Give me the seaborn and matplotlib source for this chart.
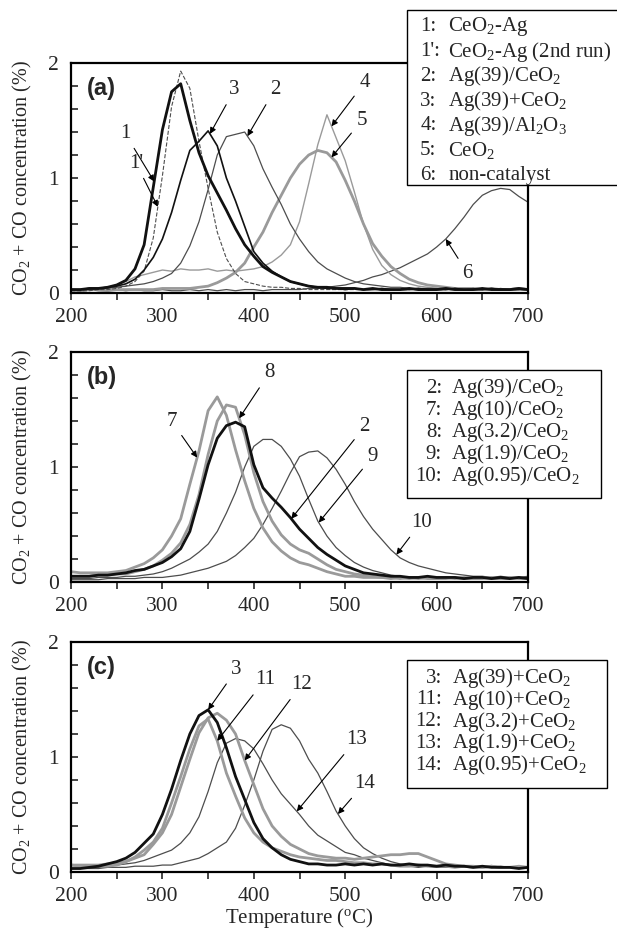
import numpy as np
import matplotlib
matplotlib.use('Agg')
import matplotlib.pyplot as plt
from matplotlib.patches import Rectangle
from matplotlib.ticker import MultipleLocator
import seaborn as sns

sns.set_style("white")
plt.rcParams['font.family'] = ['Liberation Serif', 'DejaVu Serif']
plt.rcParams['mathtext.fontset'] = 'custom'
plt.rcParams['mathtext.rm'] = 'Liberation Serif'
plt.rcParams['mathtext.it'] = 'Liberation Serif:italic'
plt.rcParams['mathtext.bf'] = 'Liberation Serif:bold'

# ------------------------------- data (10 degC steps)
temps = np.arange(200, 701, 10)

# panel (a)
a_1 = [0.03, 0.03, 0.04, 0.04, 0.05, 0.07, 0.11, 0.21, 0.42, 0.92, 1.42, 1.75,
       1.82, 1.50, 1.22, 1.02, 0.87, 0.72, 0.56, 0.42, 0.32, 0.23, 0.18, 0.14,
       0.10, 0.08, 0.06, 0.05, 0.05, 0.04, 0.04, 0.04, 0.03, 0.04, 0.03, 0.03,
       0.03, 0.04, 0.03, 0.03, 0.03, 0.04, 0.03, 0.03, 0.03, 0.04, 0.03, 0.03,
       0.03, 0.04, 0.03]
a_1b = [0.02, 0.02, 0.02, 0.03, 0.03, 0.04, 0.06, 0.10, 0.19, 0.48, 1.02, 1.62,
        1.93, 1.78, 1.32, 0.91, 0.53, 0.30, 0.17, 0.10, 0.08, 0.06, 0.05, 0.05,
        0.04, 0.04, 0.03, 0.03, 0.03, 0.03, 0.03, 0.03, 0.03, 0.03, 0.03, 0.03,
        0.03, 0.03, 0.03, 0.03, 0.03, 0.03, 0.03, 0.03, 0.03, 0.03, 0.03, 0.03,
        0.03, 0.03, 0.03]
a_2 = [0.03, 0.03, 0.03, 0.04, 0.04, 0.05, 0.06, 0.07, 0.08, 0.10, 0.13, 0.17,
       0.26, 0.41, 0.62, 0.90, 1.20, 1.36, 1.38, 1.40, 1.28, 1.08, 0.92, 0.77,
       0.60, 0.47, 0.36, 0.27, 0.21, 0.17, 0.13, 0.10, 0.08, 0.07, 0.06, 0.05,
       0.05, 0.04, 0.04, 0.04, 0.04, 0.03, 0.04, 0.03, 0.04, 0.03, 0.03, 0.04,
       0.03, 0.03, 0.04]
a_3 = [0.03, 0.03, 0.04, 0.04, 0.05, 0.06, 0.08, 0.12, 0.20, 0.31, 0.47, 0.70,
       0.98, 1.24, 1.32, 1.41, 1.28, 1.00, 0.80, 0.58, 0.36, 0.26, 0.19, 0.14,
       0.10, 0.08, 0.06, 0.05, 0.04, 0.04, 0.03, 0.04, 0.03, 0.03, 0.04, 0.03,
       0.03, 0.03, 0.04, 0.03, 0.03, 0.03, 0.04, 0.03, 0.03, 0.03, 0.04, 0.03,
       0.03, 0.03, 0.03]
a_4 = [0.03, 0.03, 0.04, 0.04, 0.05, 0.07, 0.10, 0.14, 0.16, 0.18, 0.20, 0.19,
       0.21, 0.20, 0.20, 0.21, 0.19, 0.20, 0.19, 0.20, 0.21, 0.23, 0.27, 0.33,
       0.42, 0.62, 0.95, 1.29, 1.55, 1.35, 1.15, 0.88, 0.60, 0.38, 0.24, 0.16,
       0.11, 0.08, 0.06, 0.05, 0.04, 0.04, 0.03, 0.04, 0.03, 0.03, 0.04, 0.03,
       0.03, 0.04, 0.03]
a_5 = [0.03, 0.02, 0.03, 0.03, 0.02, 0.03, 0.03, 0.03, 0.03, 0.03, 0.04, 0.04,
       0.04, 0.04, 0.05, 0.06, 0.09, 0.13, 0.18, 0.26, 0.40, 0.53, 0.70, 0.85,
       1.00, 1.12, 1.20, 1.24, 1.22, 1.14, 0.98, 0.80, 0.60, 0.43, 0.32, 0.23,
       0.17, 0.12, 0.09, 0.07, 0.06, 0.05, 0.04, 0.04, 0.04, 0.03, 0.04, 0.03,
       0.03, 0.04, 0.03]
a_6 = [0.02, 0.02, 0.03, 0.02, 0.02, 0.03, 0.02, 0.03, 0.02, 0.02, 0.03, 0.02,
       0.02, 0.03, 0.02, 0.03, 0.02, 0.03, 0.02, 0.03, 0.03, 0.02, 0.03, 0.03,
       0.03, 0.03, 0.04, 0.04, 0.05, 0.06, 0.07, 0.09, 0.11, 0.14, 0.16, 0.19,
       0.22, 0.26, 0.30, 0.34, 0.40, 0.47, 0.56, 0.66, 0.77, 0.85, 0.89, 0.91,
       0.90, 0.84, 0.79]

# panel (b)
b_2 = [0.05, 0.05, 0.05, 0.06, 0.06, 0.07, 0.08, 0.10, 0.11, 0.14, 0.17, 0.22,
       0.29, 0.44, 0.72, 1.02, 1.25, 1.36, 1.39, 1.35, 1.02, 0.82, 0.73, 0.65,
       0.56, 0.46, 0.38, 0.30, 0.24, 0.19, 0.14, 0.11, 0.08, 0.07, 0.06, 0.05,
       0.05, 0.04, 0.04, 0.05, 0.04, 0.04, 0.04, 0.03, 0.04, 0.04, 0.03, 0.04,
       0.03, 0.04, 0.03]
b_7 = [0.09, 0.08, 0.08, 0.08, 0.08, 0.09, 0.10, 0.13, 0.16, 0.21, 0.28, 0.40,
       0.55, 0.85, 1.14, 1.49, 1.61, 1.45, 1.15, 0.88, 0.64, 0.47, 0.35, 0.27,
       0.21, 0.17, 0.15, 0.12, 0.09, 0.07, 0.05, 0.05, 0.04, 0.04, 0.04, 0.03,
       0.04, 0.03, 0.04, 0.03, 0.03, 0.04, 0.03, 0.04, 0.03, 0.03, 0.04, 0.03,
       0.04, 0.03, 0.03]
b_8 = [0.05, 0.05, 0.05, 0.06, 0.06, 0.07, 0.07, 0.09, 0.11, 0.14, 0.19, 0.25,
       0.34, 0.50, 0.76, 1.11, 1.40, 1.54, 1.52, 1.28, 0.95, 0.70, 0.53, 0.41,
       0.33, 0.28, 0.25, 0.20, 0.15, 0.11, 0.09, 0.07, 0.06, 0.05, 0.04, 0.04,
       0.03, 0.04, 0.03, 0.04, 0.03, 0.03, 0.04, 0.03, 0.03, 0.04, 0.03, 0.03,
       0.03, 0.04, 0.03]
b_9 = [0.03, 0.03, 0.03, 0.04, 0.04, 0.04, 0.05, 0.05, 0.06, 0.07, 0.09, 0.12,
       0.16, 0.20, 0.26, 0.33, 0.44, 0.60, 0.78, 1.00, 1.18, 1.24, 1.24, 1.18,
       1.07, 0.92, 0.72, 0.53, 0.40, 0.30, 0.23, 0.17, 0.13, 0.10, 0.08, 0.06,
       0.05, 0.04, 0.04, 0.05, 0.04, 0.04, 0.04, 0.03, 0.04, 0.04, 0.03, 0.04,
       0.04, 0.03, 0.04]
b_10 = [0.02, 0.02, 0.02, 0.02, 0.03, 0.03, 0.03, 0.03, 0.04, 0.04, 0.04, 0.05,
        0.06, 0.08, 0.10, 0.12, 0.15, 0.18, 0.23, 0.30, 0.38, 0.50, 0.64, 0.79,
        0.95, 1.09, 1.13, 1.14, 1.08, 0.98, 0.85, 0.70, 0.57, 0.46, 0.37, 0.28,
        0.21, 0.17, 0.14, 0.12, 0.10, 0.08, 0.07, 0.06, 0.05, 0.05, 0.04, 0.05,
        0.04, 0.04, 0.05]

# panel (c)
c_3 = [0.03, 0.03, 0.04, 0.05, 0.07, 0.09, 0.12, 0.17, 0.25, 0.33, 0.50, 0.72,
       0.97, 1.20, 1.36, 1.41, 1.30, 1.08, 0.83, 0.63, 0.43, 0.29, 0.21, 0.15,
       0.11, 0.09, 0.07, 0.07, 0.06, 0.06, 0.07, 0.06, 0.07, 0.06, 0.07, 0.06,
       0.06, 0.07, 0.06, 0.06, 0.05, 0.06, 0.05, 0.05, 0.04, 0.05, 0.04, 0.04,
       0.04, 0.03, 0.04]
c_11 = [0.06, 0.06, 0.06, 0.06, 0.07, 0.08, 0.09, 0.13, 0.19, 0.26, 0.38, 0.60,
        0.83, 1.07, 1.27, 1.33, 1.14, 0.86, 0.66, 0.47, 0.34, 0.26, 0.21, 0.18,
        0.15, 0.13, 0.12, 0.11, 0.10, 0.10, 0.09, 0.08, 0.08, 0.07, 0.07, 0.06,
        0.05, 0.05, 0.06, 0.05, 0.05, 0.05, 0.04, 0.05, 0.04, 0.04, 0.05, 0.04,
        0.04, 0.04, 0.04]
c_12 = [0.06, 0.05, 0.05, 0.05, 0.05, 0.06, 0.09, 0.12, 0.15, 0.24, 0.34, 0.50,
        0.74, 0.98, 1.21, 1.34, 1.38, 1.32, 1.20, 0.97, 0.76, 0.55, 0.40, 0.31,
        0.24, 0.20, 0.16, 0.14, 0.13, 0.12, 0.12, 0.11, 0.12, 0.13, 0.14, 0.15,
        0.15, 0.16, 0.16, 0.13, 0.10, 0.07, 0.06, 0.05, 0.05, 0.04, 0.05, 0.04,
        0.04, 0.05, 0.04]
c_13 = [0.03, 0.03, 0.04, 0.04, 0.05, 0.06, 0.07, 0.08, 0.10, 0.13, 0.16, 0.19,
        0.25, 0.34, 0.48, 0.70, 0.95, 1.12, 1.16, 1.14, 1.07, 0.94, 0.80, 0.68,
        0.59, 0.50, 0.40, 0.32, 0.27, 0.22, 0.17, 0.15, 0.12, 0.10, 0.08, 0.06,
        0.05, 0.05, 0.04, 0.05, 0.04, 0.04, 0.04, 0.04, 0.05, 0.04, 0.04, 0.04,
        0.04, 0.03, 0.04]
c_14 = [0.03, 0.03, 0.03, 0.03, 0.04, 0.04, 0.04, 0.05, 0.05, 0.05, 0.06, 0.06,
        0.08, 0.10, 0.12, 0.16, 0.21, 0.26, 0.38, 0.58, 0.80, 1.05, 1.24, 1.28,
        1.25, 1.14, 0.98, 0.86, 0.70, 0.53, 0.40, 0.29, 0.21, 0.16, 0.12, 0.09,
        0.07, 0.06, 0.05, 0.05, 0.04, 0.05, 0.04, 0.04, 0.05, 0.04, 0.04, 0.05,
        0.04, 0.04, 0.04]

# legend texts
a_nums = ['1:', "1':", '2:', '3:', '4:', '5:', '6:']
a_names = ['CeO$_2$-Ag', 'CeO$_2$-Ag (2nd run)', 'Ag(39)/CeO$_2$', 'Ag(39)+CeO$_2$',
           'Ag(39)/Al$_2$O$_3$', 'CeO$_2$', 'non-catalyst']
b_nums = ['2:', '7:', '8:', '9:', '10:']
b_names = ['Ag(39)/CeO$_2$', 'Ag(10)/CeO$_2$', 'Ag(3.2)/CeO$_2$', 'Ag(1.9)/CeO$_2$',
           'Ag(0.95)/CeO$_2$']
c_nums = ['3:', '11:', '12:', '13:', '14:']
c_names = ['Ag(39)+CeO$_2$', 'Ag(10)+CeO$_2$', 'Ag(3.2)+CeO$_2$', 'Ag(1.9)+CeO$_2$',
           'Ag(0.95)+CeO$_2$']

# ------------------------------- styles
BLACK = '#111111'
DARK = '#4d4d4d'
LIGHT = '#9a9a9a'
FS_TICK = 15.5
FS_TXT = 15

fig = plt.figure(figsize=(6.17, 9.38), dpi=100)
ax_a = fig.add_axes([0.1151, 0.6876, 0.7407, 0.2452])
ax_b = fig.add_axes([0.1151, 0.3795, 0.7407, 0.2452])
ax_c = fig.add_axes([0.1151, 0.0704, 0.7407, 0.2452])


def curve(ax, vals, color, lw, ls='-'):
    sns.lineplot(x=temps, y=vals, ax=ax, color=color, lw=lw, linestyle=ls)


def tag(ax, text, t_target, vals, xytext):
    y = np.interp(t_target, temps, vals)
    ax.annotate(text, xy=(t_target, y), xytext=xytext, fontsize=FS_TXT,
                ha='center', va='center', zorder=4,
                arrowprops=dict(arrowstyle='-|>', color='black', lw=0.8,
                                mutation_scale=9, shrinkA=2, shrinkB=0))


def key(ax, box, nums, names, ytop, dy, xnum, num_ha, xname):
    x0, x1, y0, y1 = box
    ax.add_patch(Rectangle((x0, y0), x1 - x0, y1 - y0, transform=ax.transAxes,
                           facecolor='white', edgecolor='black', lw=1.0,
                           clip_on=False, zorder=5))
    for i, (n, nm) in enumerate(zip(nums, names)):
        y = ytop - i * dy
        ax.text(xnum, y, n, transform=ax.transAxes, ha=num_ha, va='center',
                fontsize=FS_TXT, zorder=6)
        ax.text(xname, y, nm, transform=ax.transAxes, ha='left', va='center',
                fontsize=FS_TXT, zorder=6)


def frame(ax, letter):
    ax.set_xlim(200, 700)
    ax.set_ylim(0, 2)
    ax.xaxis.set_major_locator(MultipleLocator(100))
    ax.xaxis.set_minor_locator(MultipleLocator(50))
    ax.yaxis.set_major_locator(MultipleLocator(1))
    ax.yaxis.set_minor_locator(MultipleLocator(0.2))
    ax.tick_params(axis='x', which='both', direction='out', length=5, width=1.2,
                   labelsize=FS_TICK, pad=6, bottom=True)
    ax.tick_params(axis='y', which='both', direction='in', length=5, width=1.2,
                   labelsize=FS_TICK, pad=9, left=True)
    for sp in ax.spines.values():
        sp.set_linewidth(1.6)
        sp.set_color('black')
    ax.set_xlabel('')
    ax.set_ylabel('CO$_2$ + CO concentration (%)', fontsize=14.5)
    ax.yaxis.set_label_coords(-0.082, 0.5)
    ax.text(0.034, 0.89, letter, transform=ax.transAxes, fontsize=17,
            fontweight='bold', family=['Liberation Sans', 'DejaVu Sans'],
            ha='left', va='center')


# ------------------------------- (a)
curve(ax_a, a_6, DARK, 0.9)
curve(ax_a, a_4, LIGHT, 1.0)
curve(ax_a, a_5, LIGHT, 2.0)
curve(ax_a, a_2, DARK, 0.9)
curve(ax_a, a_1b, DARK, 0.8, '--')
curve(ax_a, a_3, BLACK, 1.2)
curve(ax_a, a_1, BLACK, 2.0)
frame(ax_a, '(a)')
tag(ax_a, '1', 291, a_1, (259, 1.39))
tag(ax_a, "1'", 295, a_1b, (271, 1.13))
tag(ax_a, '3', 352, a_3, (379, 1.77))
tag(ax_a, '2', 393, a_2, (423, 1.77))
tag(ax_a, '4', 485, a_4, (521, 1.83))
tag(ax_a, '5', 485, a_5, (518, 1.50))
tag(ax_a, '6', 610, a_6, (634, 0.17))
key(ax_a, (0.735, 1.196, 0.470, 1.230), a_nums, a_names,
    1.157, 0.1074, 0.764, 'left', 0.825)

# ------------------------------- (b)
curve(ax_b, b_10, DARK, 0.9)
curve(ax_b, b_9, DARK, 0.9)
curve(ax_b, b_7, LIGHT, 2.0)
curve(ax_b, b_8, LIGHT, 2.0)
curve(ax_b, b_2, BLACK, 2.0)
frame(ax_b, '(b)')
tag(ax_b, '7', 338, b_7, (310, 1.40))
tag(ax_b, '8', 384, b_8, (417, 1.82))
tag(ax_b, '2', 441, b_2, (521, 1.35))
tag(ax_b, '9', 471, b_9, (530, 1.09))
tag(ax_b, '10', 556, b_10, (583, 0.52))
key(ax_b, (0.735, 1.160, 0.365, 0.922), b_nums, b_names,
    0.842, 0.0957, 0.812, 'right', 0.832)

# ------------------------------- (c)
curve(ax_c, c_14, DARK, 0.9)
curve(ax_c, c_13, DARK, 0.9)
curve(ax_c, c_12, LIGHT, 2.0)
curve(ax_c, c_11, LIGHT, 2.0)
curve(ax_c, c_3, BLACK, 2.0)
frame(ax_c, '(c)')
tag(ax_c, '3', 350, c_3, (381, 1.76))
tag(ax_c, '11', 360, c_11, (412, 1.67))
tag(ax_c, '12', 390, c_12, (452, 1.63))
tag(ax_c, '13', 447, c_13, (512, 1.15))
tag(ax_c, '14', 492, c_14, (521, 0.77))
key(ax_c, (0.735, 1.173, 0.365, 0.922), c_nums, c_names,
    0.842, 0.0943, 0.812, 'right', 0.834)
ax_c.set_xlabel('Temperature ($^{\\mathrm{o}}$C)', fontsize=FS_TXT, labelpad=0)

fig.savefig('out.png', dpi=100)
